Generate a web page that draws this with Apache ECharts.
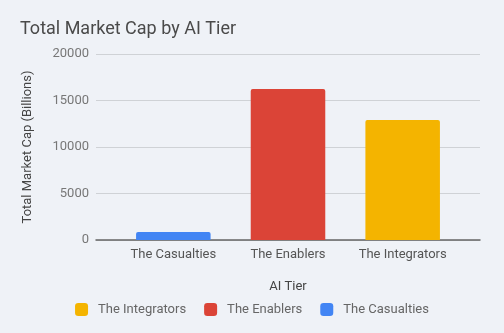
<!DOCTYPE html>
<html><head><meta charset="utf-8">
<script src="https://cdn.jsdelivr.net/npm/echarts@6/dist/echarts.min.js"></script>
<style>html,body{margin:0;padding:0;background:#eff2f7}#c{width:504px;height:333px}</style>
</head><body><div id="c"></div>
<script>
const categories = ['The Casualties', 'The Enablers', 'The Integrators'];
const values = [850, 16240, 12900];
const colors = ['#4285f4', '#db4437', '#f4b400'];
const legendOrder = ['The Integrators', 'The Enablers', 'The Casualties'];
const yTicks = [0, 5000, 10000, 15000, 20000];

const font = 'Roboto, "Noto Sans", sans-serif';
const series = categories.map((cat, i) => ({
  name: cat, type: 'bar', stack: 'all', xAxisIndex: 1, yAxisIndex: 1,
  barWidth: '65%',
  itemStyle: { color: colors[i], borderRadius: [2, 2, 0, 0] },
  data: categories.map((c, j) => j === i ? values[i] : '-')
}));
series.push({ type: 'bar', xAxisIndex: 0, yAxisIndex: 0, data: [], silent: true });

const chart = echarts.init(document.getElementById('c'));
chart.setOption({
  backgroundColor: '#eff2f7',
  animation: false,
  title: { text: 'Total Market Cap by AI Tier', left: 15, top: 15,
    textStyle: { fontFamily: font, fontSize: 18, fontWeight: 'normal', color: '#4a4a4a' } },
  legend: { data: legendOrder, top: 298, left: 'center', itemWidth: 13, itemHeight: 13, itemGap: 18,
    icon: 'roundRect',
    textStyle: { fontFamily: font, fontSize: 13, color: '#666', padding: [0, 0, 0, 5] } },
  grid: [
    { left: 96, right: 24, top: 54, bottom: 93 },
    { left: 116, right: 44, top: 54, bottom: 93 }
  ],
  xAxis: [
    { type: 'category', gridIndex: 0, data: [''], axisLine: { lineStyle: { color: '#666', width: 1.5 } },
      axisTick: { show: false }, axisLabel: { show: false } },
    { type: 'category', gridIndex: 1, data: categories, name: 'AI Tier', nameLocation: 'middle', nameGap: 40,
      nameTextStyle: { fontFamily: font, fontSize: 13, color: '#444' },
      axisLine: { show: false }, axisTick: { show: false },
      axisLabel: { fontFamily: font, fontSize: 13, color: '#555', margin: 8 } }
  ],
  yAxis: [
    { type: 'value', gridIndex: 0, min: yTicks[0], max: yTicks[yTicks.length - 1], interval: 5000,
      name: 'Total Market Cap (Billions)', nameLocation: 'middle', nameGap: 62,
      nameTextStyle: { fontFamily: font, fontSize: 13, color: '#444' },
      axisLine: { show: false }, axisTick: { show: false },
      axisLabel: { fontFamily: font, fontSize: 13, color: '#777', margin: 7, formatter: v => String(v) },
      splitLine: { lineStyle: { color: '#cfd2d6', width: 1 } } },
    { type: 'value', gridIndex: 1, min: yTicks[0], max: yTicks[yTicks.length - 1], interval: 5000,
      show: false, splitLine: { show: false } }
  ],
  series: series
});
</script></body></html>
